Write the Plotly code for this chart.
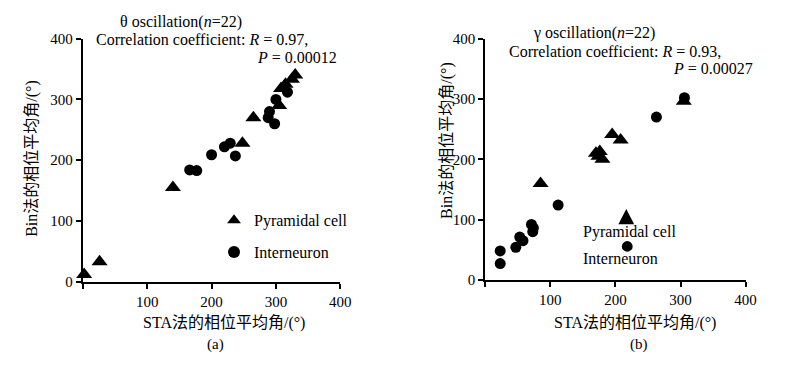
import plotly.graph_objects as go
from plotly.subplots import make_subplots

# ---- data (a) theta oscillation ----
a_pyr_x = [2, 26, 140, 248, 265, 305, 308, 315, 325, 330]
a_pyr_y = [12, 33, 155, 228, 270, 290, 318, 325, 333, 340]
a_int_x = [166, 177, 200, 220, 229, 237, 288, 290, 298, 300, 318]
a_int_y = [184, 183, 209, 222, 228, 207, 270, 280, 260, 300, 312]

# ---- data (b) gamma oscillation ----
b_pyr_x = [85, 170, 174, 176, 180, 195, 208, 305]
b_pyr_y = [160, 210, 205, 213, 200, 241, 232, 296]
b_int_x = [23, 23, 47, 53, 58, 71, 73, 74, 112, 263, 306]
b_int_y = [27, 48, 54, 71, 65, 92, 80, 86, 124, 270, 302]

y_ticks = [0, 100, 200, 300, 400]
x_ticks = [0, 100, 200, 300, 400]
x_ticktext = ["", "100", "200", "300", "400"]

FONT = "Liberation Serif, Times New Roman, Noto Sans CJK SC, serif"

fig = make_subplots(rows=1, cols=2)

tri = dict(symbol="triangle-up", size=14, color="black")
cir = dict(symbol="circle", size=11, color="black")

fig.add_trace(go.Scatter(x=a_pyr_x, y=a_pyr_y, mode="markers", marker=tri,
                         name="Pyramidal cell", legendgroup="p", cliponaxis=False), row=1, col=1)
fig.add_trace(go.Scatter(x=a_int_x, y=a_int_y, mode="markers", marker=cir,
                         name="Interneuron", legendgroup="i", cliponaxis=False), row=1, col=1)
fig.add_trace(go.Scatter(x=b_pyr_x, y=b_pyr_y, mode="markers", marker=tri,
                         name="Pyramidal cell", showlegend=False, cliponaxis=False), row=1, col=2)
fig.add_trace(go.Scatter(x=b_int_x, y=b_int_y, mode="markers", marker=cir,
                         name="Interneuron", showlegend=False, cliponaxis=False), row=1, col=2)

axis_common = dict(showline=True, linecolor="black", linewidth=2, ticks="outside",
                   tickcolor="black", ticklen=5, tickwidth=1.5, showgrid=False,
                   zeroline=False, range=[0, 400],
                   tickfont=dict(family=FONT, size=15, color="black"))

fig.update_xaxes(**axis_common, tickvals=x_ticks, ticktext=x_ticktext)
fig.update_yaxes(**axis_common, tickvals=y_ticks)

fig.update_layout(
    width=800, height=375,
    margin=dict(l=0, r=0, t=0, b=0),
    paper_bgcolor="white", plot_bgcolor="white",
    font=dict(family=FONT, size=15, color="black"),
    xaxis=dict(domain=[84/800, 345/800]),
    xaxis2=dict(domain=[492/800, 756/800]),
    yaxis=dict(domain=[1-286/375, 1-32/375]),
    yaxis2=dict(domain=[1-284/375, 1-32/375]),
    showlegend=True,
    legend=dict(x=217/800, y=1-204/375, xanchor="left", yanchor="top",
                bgcolor="rgba(0,0,0,0)", font=dict(family=FONT, size=16),
                itemsizing="constant", tracegroupgap=8),
)

def ann(text, x, y, xanchor="center", size=16, angle=0):
    fig.add_annotation(text=text, x=x/800, y=1-y/375, xref="paper", yref="paper",
                       xanchor=xanchor, yanchor="middle", showarrow=False,
                       textangle=angle, font=dict(family=FONT, size=size, color="black"))

# panel (a) texts
ann("θ oscillation(<i>n</i>=22)", 184, 15)
ann("Correlation coefficient: <i>R</i> = 0.97,", 95, 33, xanchor="left")
ann("<i>P</i> = 0.00012", 344, 52, xanchor="right")
ann("STA法的相位平均角/(°)", 227, 329)
ann("(a)", 218, 352, size=15)
ann("Bin法的相位平均角/(°)", 33, 157, angle=-90)

# panel (b) texts
ann("γ oscillation(<i>n</i>=22)", 602, 26)
ann("Correlation coefficient: <i>R</i> = 0.93,", 514, 45, xanchor="left")
ann("<i>P</i> = 0.00027", 766, 63, xanchor="right")
ann("STA法的相位平均角/(°)", 644, 329)
ann("(b)", 648, 352, size=15)
ann("Bin法的相位平均角/(°)", 453, 138, angle=-90)

# panel (b) legend: markers drawn as shapes, labels as text
ann("Pyramidal cell", 589, 234, xanchor="left")
ann("Interneuron", 589, 262, xanchor="left")
def px(x): return x/800
def py(y): return 1-y/375
fig.add_shape(type="path", xref="paper", yref="paper",
              path=f"M {px(627)} {py(226)} L {px(643)} {py(226)} L {px(635)} {py(210)} Z",
              fillcolor="black", line=dict(color="black", width=0))
fig.add_shape(type="circle", xref="paper", yref="paper",
              x0=px(630.5), x1=px(641.5), y0=py(254.5), y1=py(243.5),
              fillcolor="black", line=dict(color="black", width=0))

fig.write_html("out.html", config={"displayModeBar": False},
               post_script="document.body.style.margin='0';document.body.style.overflow='hidden';")
